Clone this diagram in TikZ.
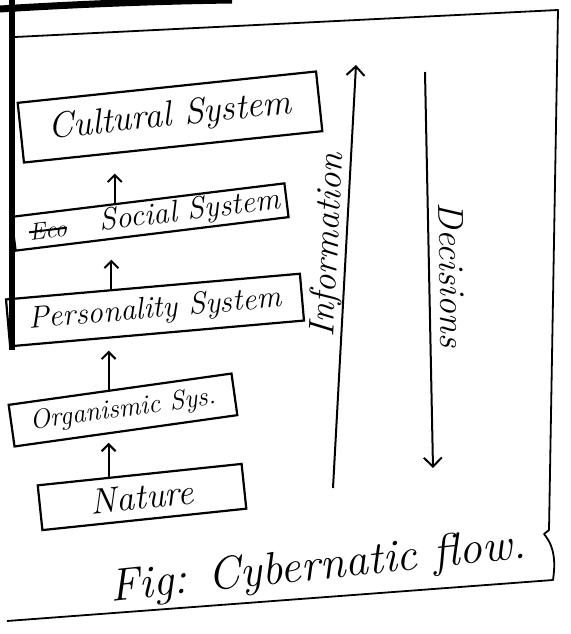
\documentclass[tikz,border=0pt]{standalone}
\usetikzlibrary{calc,arrows.meta}
\tikzset{
  sysbox/.style={draw, line width=2.2pt, inner sep=0pt, font=\itshape},
  handtext/.style={inner sep=0pt, font=\itshape},
  uparrow/.style={-{Straight Barb[length=7pt,width=14pt,line width=2pt]}, line width=2pt},
  flowarrow/.style={-{Straight Barb[length=9pt,width=18pt,line width=2pt]}, line width=2pt},
}
\begin{document}
\begin{tikzpicture}[x=1pt,y=-1pt]
			%%%%% START %%%%%
			\useasboundingbox (0,0) rectangle (570,634);
			\fill[white] (0,0) rectangle (570,634);
			
			% thick edge of the sheet
			\draw[line width=7pt] (0,9) .. controls (80,4) and (160,1) .. (232,0);
			\draw[line width=6pt] (12,0) -- (12,350);
			
			% frame round the figure
			\draw[line width=1.8pt, line join=round] (15,37) -- (558,10) -- (549,530) -- (544,534) .. controls (556,548) and (555,566) .. (553,580) -- (7,621);
			
			% the levels
			\node[sysbox, minimum width=300, minimum height=60, rotate=6] (cultural) at (170,117) {\fontsize{36}{40}\selectfont Cultural System};
			\node[sysbox, minimum width=275, minimum height=34, rotate=7] (social) at (150,217) {};
			\node[handtext, rotate=7] (socialtext) at (190,212) {\fontsize{31}{34}\selectfont Social System};
			\node[handtext, rotate=7] (struck) at (48,230) {\fontsize{24}{28}\selectfont Eco};
			\draw[line width=2pt] (struck.west) -- (struck.east);
			\node[sysbox, minimum width=295, minimum height=47, rotate=5] (personality) at (155,310) {\fontsize{31}{34}\selectfont Personality System};
			\node[sysbox, minimum width=225, minimum height=42, rotate=8] (organismic) at (123,410) {\fontsize{27}{30}\selectfont Organismic Sys.};
			\node[sysbox, minimum width=205, minimum height=45, rotate=6] (nature) at (142,497) {\fontsize{36}{40}\selectfont Nature};
			
			% arrows between the levels
			\draw[uparrow, shorten >=20pt] ($(social.north west)!0.38!(social.north east)$) coordinate (a1) -- (a1 |- {$(cultural.south west)!0.32!(cultural.south east)$});
			\draw[uparrow, shorten >=20pt] ($(personality.north west)!0.36!(personality.north east)$) coordinate (a2) -- (a2 |- {$(social.south west)!0.36!(social.south east)$});
			\draw[uparrow, shorten >=12pt] ($(organismic.north west)!0.45!(organismic.north east)$) coordinate (a3) -- (a3 |- {$(personality.south west)!0.34!(personality.south east)$});
			\draw[uparrow, shorten >=10pt] ($(nature.north west)!0.35!(nature.north east)$) coordinate (a4) -- (a4 |- {$(organismic.south west)!0.47!(organismic.south east)$});
			
			% flow of information and decisions
			\coordinate (infotail) at (333,488);
			\coordinate (infohead) at (356,65);
			\draw[flowarrow] (infotail) -- (infohead);
			\node[handtext, rotate=87] (information) at (329,245) {\fontsize{36}{40}\selectfont Information};
			
			\coordinate (dectail) at (425,72);
			\coordinate (dechead) at (433,468);
			\draw[flowarrow] (dectail) -- (dechead);
			\node[handtext, rotate=-89] (decisions) at (452,275) {\fontsize{36}{40}\selectfont Decisions};
			
			% caption
			\node[handtext, rotate=6] (caption) at (318,568) {\fontsize{46}{50}\selectfont Fig: Cybernatic flow.};
			%%%%% END %%%%%
\end{tikzpicture}
\end{document}
